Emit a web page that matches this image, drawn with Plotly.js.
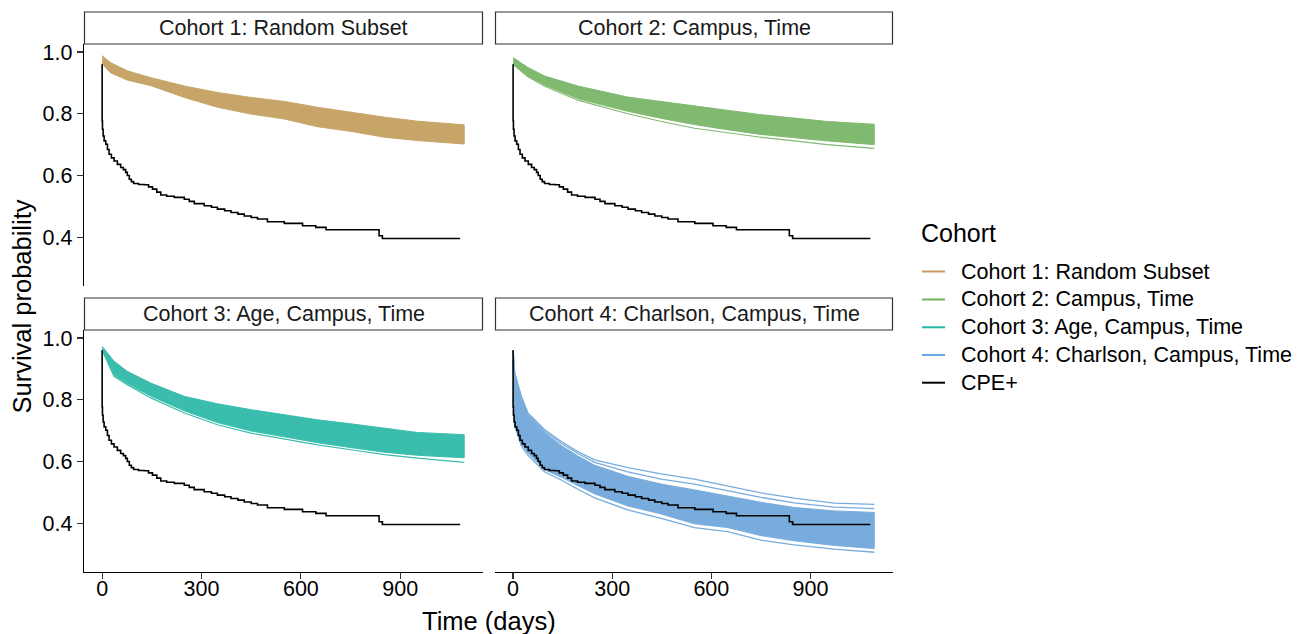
<!DOCTYPE html>
<html>
<head>
<meta charset="utf-8">
<script src="https://cdn.plot.ly/plotly-3.0.1.min.js"></script>
<style>html,body{margin:0;padding:0;background:#fff;}#chart{width:1309px;height:634px;}</style>
</head>
<body>
<div id="chart"></div>
<script>
// ---------------- data ----------------
const cohortNames = ["Cohort 1: Random Subset", "Cohort 2: Campus, Time", "Cohort 3: Age, Campus, Time", "Cohort 4: Charlson, Campus, Time"];
const cohortColors = ["#C7A568", "#80B970", "#3ABDAC", "#78ACDC"];
const legendColors = ["#C49C5C", "#72B45C", "#25B9A4", "#6AA6E0"];
const xTickVals = [0, 300, 600, 900];
const yTickVals = [0.4, 0.6, 0.8, 1.0];

// CPE+ Kaplan-Meier curve (same in every panel)
const cpeTime = [0, 0, 1, 3, 6, 11, 16, 21, 28, 36, 46, 56, 64, 71, 76, 82, 88, 95, 110, 127, 140, 152, 165, 177, 195, 218, 248, 263, 278, 308, 330, 348, 370, 389, 410, 429, 450, 469, 499, 550, 605, 645, 676, 831, 836, 846, 1081];
const cpeSurv = [0.960, 0.777, 0.750, 0.728, 0.712, 0.701, 0.684, 0.669, 0.657, 0.647, 0.636, 0.626, 0.619, 0.610, 0.600, 0.588, 0.580, 0.574, 0.571, 0.570, 0.563, 0.556, 0.546, 0.537, 0.533, 0.529, 0.523, 0.516, 0.509, 0.502, 0.497, 0.491, 0.486, 0.480, 0.475, 0.469, 0.464, 0.459, 0.450, 0.445, 0.437, 0.432, 0.424, 0.424, 0.405, 0.396, 0.396];

// Cohort 1 band (edges of the bundle of matched-cohort curves)
const c1Time  = [0, 25, 76, 147, 248, 348, 449, 550, 650, 751, 852, 952, 1093];
const c1Upper = [0.988, 0.966, 0.939, 0.917, 0.890, 0.869, 0.853, 0.840, 0.821, 0.805, 0.789, 0.776, 0.764];
const c1Lower = [0.962, 0.933, 0.909, 0.891, 0.853, 0.821, 0.799, 0.783, 0.758, 0.743, 0.724, 0.713, 0.702];

// Cohort 2 band + lowest separate curve
const c2Time  = [0, 45, 96, 196, 347, 449, 549, 650, 750, 851, 951, 1093];
const c2Upper = [0.982, 0.950, 0.922, 0.890, 0.854, 0.839, 0.825, 0.811, 0.797, 0.786, 0.775, 0.766];
const c2Lower = [0.960, 0.922, 0.893, 0.849, 0.808, 0.785, 0.765, 0.748, 0.733, 0.722, 0.712, 0.700];
const c2Outer = [0.960, 0.920, 0.889, 0.844, 0.800, 0.775, 0.753, 0.738, 0.724, 0.712, 0.700, 0.688];

// Cohort 3 band + lowest separate curve
const c3Time  = [0, 36, 76, 147, 248, 348, 449, 550, 650, 751, 852, 952, 1093];
const c3Upper = [0.973, 0.925, 0.892, 0.854, 0.811, 0.787, 0.768, 0.751, 0.735, 0.722, 0.708, 0.694, 0.687];
const c3Lower = [0.962, 0.880, 0.853, 0.812, 0.764, 0.726, 0.699, 0.680, 0.661, 0.645, 0.630, 0.620, 0.612];
const c3Outer = [0.960, 0.876, 0.849, 0.806, 0.757, 0.719, 0.692, 0.673, 0.654, 0.638, 0.622, 0.611, 0.597];

// Cohort 4 band + separate upper / lower curves
const c4Time   = [0, 5, 25, 45, 96, 146, 196, 247, 347, 448, 549, 649, 750, 851, 972, 1093];
const c4Upper  = [0.960, 0.880, 0.800, 0.748, 0.693, 0.652, 0.618, 0.588, 0.552, 0.527, 0.508, 0.488, 0.468, 0.451, 0.440, 0.435];
const c4Lower  = [0.930, 0.722, 0.657, 0.627, 0.573, 0.549, 0.522, 0.495, 0.456, 0.430, 0.398, 0.386, 0.360, 0.343, 0.328, 0.318];
const c4TopA   = [0.960, 0.887, 0.811, 0.757, 0.703, 0.665, 0.632, 0.605, 0.580, 0.560, 0.543, 0.521, 0.498, 0.481, 0.465, 0.461];
const c4TopB   = [0.960, 0.884, 0.806, 0.752, 0.698, 0.659, 0.626, 0.597, 0.566, 0.543, 0.527, 0.505, 0.484, 0.466, 0.452, 0.447];
const c4Bottom = [0.930, 0.715, 0.650, 0.620, 0.566, 0.540, 0.510, 0.482, 0.443, 0.416, 0.386, 0.373, 0.345, 0.330, 0.316, 0.306];

// ---------------- layout geometry ----------------
const W = 1309, H = 634;
const px = v => v / W;
const py = v => 1 - v / H;
const colX = [[84, 483], [495, 893]];
const rowY = [[44, 286], [330, 572]];
const stripY = [[12, 44], [298, 330]];
const xRange = [-54.75, 1149.75];
const yRange = [0.242, 1.026];

function band(t, up, lo, color, ax) {
  return {
    x: t.concat(t.slice().reverse()),
    y: up.concat(lo.slice().reverse()),
    xaxis: ax[0], yaxis: ax[1],
    mode: "lines", fill: "toself", fillcolor: color,
    line: {color: color, width: 1}, hoverinfo: "skip", showlegend: false
  };
}
function curve(t, s, color, ax, w, shape) {
  return {
    x: t, y: s, xaxis: ax[0], yaxis: ax[1], mode: "lines",
    line: {color: color, width: w, shape: shape || "linear"},
    hoverinfo: "skip", showlegend: false
  };
}
const axes = [["x", "y"], ["x2", "y2"], ["x3", "y3"], ["x4", "y4"]];
const traces = [];
traces.push(band(c1Time, c1Upper, c1Lower, cohortColors[0], axes[0]));
traces.push(band(c2Time, c2Upper, c2Lower, cohortColors[1], axes[1]));
traces.push(curve(c2Time, c2Outer, cohortColors[1], axes[1], 1.2));
traces.push(band(c3Time, c3Upper, c3Lower, cohortColors[2], axes[2]));
traces.push(curve(c3Time, c3Outer, cohortColors[2], axes[2], 1.2));
traces.push(band(c4Time, c4Upper, c4Lower, cohortColors[3], axes[3]));
traces.push(curve(c4Time, c4TopA, cohortColors[3], axes[3], 1.3));
traces.push(curve(c4Time, c4TopB, cohortColors[3], axes[3], 1.3));
traces.push(curve(c4Time, c4Bottom, cohortColors[3], axes[3], 1.3));
for (let i = 0; i < 4; i++) traces.push(curve(cpeTime, cpeSurv, "#000000", axes[i], 1.6, "hv"));

const FONT = "Liberation Sans, Arial, Helvetica, sans-serif";
const tickFont = {family: FONT, size: 21.5, color: "#000"};

function xAxis(col, row) {
  const bottom = row === 1;
  return {
    domain: [px(colX[col][0]), px(colX[col][1])],
    anchor: "y" + (row * 2 + col + 1 === 1 ? "" : row * 2 + col + 1),
    range: xRange, tickvals: xTickVals, ticktext: xTickVals.map(String),
    showgrid: false, zeroline: false, fixedrange: true,
    showline: bottom, linecolor: "#000", linewidth: 1.2,
    ticks: bottom ? "outside" : "", ticklen: 6, tickwidth: 1.2, tickcolor: "#333",
    ticklabelstandoff: -9,
    showticklabels: bottom, tickfont: tickFont
  };
}
function yAxis(col, row) {
  const left = col === 0;
  return {
    domain: [py(rowY[row][1]), py(rowY[row][0])],
    anchor: "x" + (row * 2 + col + 1 === 1 ? "" : row * 2 + col + 1),
    range: yRange, tickvals: yTickVals, ticktext: yTickVals.map(v => v.toFixed(1)),
    showgrid: false, zeroline: false, fixedrange: true,
    showline: left, linecolor: "#000", linewidth: 1.2,
    ticks: left ? "outside" : "", ticklen: 6, tickwidth: 1.2, tickcolor: "#333",
    showticklabels: left, tickfont: tickFont
  };
}

const shapes = [];
const annotations = [];
for (let r = 0; r < 2; r++) {
  for (let c = 0; c < 2; c++) {
    const i = r * 2 + c;
    shapes.push({type: "rect", xref: "paper", yref: "paper",
      x0: px(colX[c][0] + 0.5), x1: px(colX[c][1] - 0.5),
      y0: py(stripY[r][1]), y1: py(stripY[r][0]),
      line: {color: "#333", width: 1.2}, fillcolor: "#fff"});
    annotations.push({xref: "paper", yref: "paper",
      x: px((colX[c][0] + colX[c][1]) / 2), y: py((stripY[r][0] + stripY[r][1]) / 2),
      xanchor: "center", yanchor: "middle", showarrow: false,
      text: cohortNames[i], font: {family: FONT, size: 21.5, color: "#1a1a1a"}});
  }
}
// axis titles
annotations.push({xref: "paper", yref: "paper", x: px(488.5), y: py(621), xanchor: "center", yanchor: "middle",
  showarrow: false, text: "Time (days)", font: {family: FONT, size: 25.5, color: "#000"}});
annotations.push({xref: "paper", yref: "paper", x: px(21), y: py(306.5), xanchor: "center", yanchor: "middle",
  textangle: -90, showarrow: false, text: "Survival probability", font: {family: FONT, size: 25.5, color: "#000"}});

// legend (drawn by hand to match ggplot guide)
const legendLabels = cohortNames.concat(["CPE+"]);
const legendKeyColors = legendColors.concat(["#000000"]);
const legendRowY = [271.5, 299.5, 327.3, 355, 382.7];
annotations.push({xref: "paper", yref: "paper", x: px(919), y: py(233), xanchor: "left", yanchor: "middle",
  showarrow: false, text: "Cohort", font: {family: FONT, size: 25, color: "#000"}});
legendLabels.forEach((lab, k) => {
  shapes.push({type: "line", xref: "paper", yref: "paper", x0: px(922), x1: px(945),
    y0: py(legendRowY[k]), y1: py(legendRowY[k]), line: {color: legendKeyColors[k], width: 2}});
  annotations.push({xref: "paper", yref: "paper", x: px(959), y: py(legendRowY[k]), xanchor: "left", yanchor: "middle",
    showarrow: false, text: lab, font: {family: FONT, size: 21.5, color: "#000"}});
});

const layout = {
  width: W, height: H, margin: {l: 0, r: 0, t: 0, b: 0, pad: 0},
  paper_bgcolor: "#fff", plot_bgcolor: "rgba(0,0,0,0)", showlegend: false,
  xaxis: xAxis(0, 0), xaxis2: xAxis(1, 0), xaxis3: xAxis(0, 1), xaxis4: xAxis(1, 1),
  yaxis: yAxis(0, 0), yaxis2: yAxis(1, 0), yaxis3: yAxis(0, 1), yaxis4: yAxis(1, 1),
  shapes: shapes, annotations: annotations
};
Plotly.newPlot("chart", traces, layout, {displayModeBar: false, staticPlot: true});
</script>
</body>
</html>
